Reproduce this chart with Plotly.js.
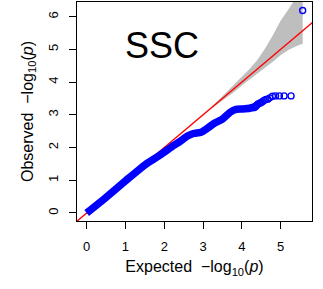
<!DOCTYPE html>
<html>
<head>
<meta charset="utf-8">
<script src="https://cdn.plot.ly/plotly-3.0.1.min.js"></script>
<style>html,body{margin:0;padding:0;background:#fff;}#chart{width:323px;height:289px;}</style>
</head>
<body>
<div id="chart"></div>
<script>
// Dense part of the QQ ribbon (expected, observed)
var denseExpected = [0, 0.5, 1.0, 1.5, 1.8, 2.0, 2.2, 2.4, 2.6, 2.75, 2.95, 3.1, 3.3, 3.5, 3.7, 3.85, 4.0, 4.2, 4.35];
var denseObserved = [0, 0.48, 0.98, 1.47, 1.7, 1.86, 2.03, 2.18, 2.35, 2.43, 2.47, 2.58, 2.75, 2.87, 3.08, 3.17, 3.18, 3.2, 3.25];
// Sparse tail points
var tailExpected = [5.57, 5.27, 5.09, 4.97, 4.87, 4.79, 4.72, 4.67, 4.62, 4.57, 4.53, 4.49, 4.46, 4.42, 4.39, 4.37, 4.34, 4.31];
var tailObserved = [6.19, 3.58, 3.58, 3.58, 3.58, 3.57, 3.52, 3.48, 3.47, 3.44, 3.40, 3.37, 3.36, 3.33, 3.30, 3.27, 3.24, 3.22];
// Confidence band
var bandX = [3.2, 3.5, 3.8, 4.0, 4.2, 4.4, 4.6, 4.8, 5.0, 5.2, 5.4, 5.57];
var bandUpper = [3.22, 3.58, 3.92, 4.15, 4.4, 4.68, 5.03, 5.43, 5.88, 6.22, 6.56, 6.9];
var bandLower = [3.18, 3.43, 3.7, 3.9, 4.1, 4.27, 4.44, 4.62, 4.82, 4.98, 5.1, 5.17];
// Reference line y = x
var refLine = [-1, 7];
var xTicks = [0, 1, 2, 3, 4, 5];
var yTicks = [0, 1, 2, 3, 4, 5, 6];
var label = "SSC";

var polyX = bandX.concat(bandX.slice().reverse());
var polyY = bandUpper.concat(bandLower.slice().reverse());

var traces = [
  {x: polyX, y: polyY, type: 'scatter', mode: 'lines', fill: 'toself',
   fillcolor: '#BEBEBE', line: {width: 0, color: '#BEBEBE'}, hoverinfo: 'skip'},
  {x: refLine, y: refLine, type: 'scatter', mode: 'lines',
   line: {color: '#FF0000', width: 1.4}},
  {x: denseExpected, y: denseObserved, type: 'scatter', mode: 'lines',
   line: {color: '#0000FF', width: 7.5, shape: 'spline', smoothing: 0.6}},
  {x: tailExpected, y: tailObserved, type: 'scatter', mode: 'markers',
   marker: {symbol: 'circle-open', size: 6, color: '#0000FF', line: {width: 1.4, color: '#0000FF'}}}
];

var font = {family: 'Liberation Sans, Arial, Helvetica, sans-serif', color: '#000'};

var layout = {
  width: 323, height: 289,
  margin: {l: 77, r: 11, t: 2, b: 68},
  paper_bgcolor: '#fff', plot_bgcolor: '#fff',
  showlegend: false,
  font: font,
  xaxis: {
    range: [-0.25, 5.81], tickvals: xTicks, ticktext: xTicks.map(String),
    ticks: 'outside', ticklen: 7, tickwidth: 1, tickcolor: '#000',
    showline: true, linecolor: '#000', linewidth: 1, mirror: true,
    showgrid: false, zeroline: false,
    tickfont: {family: font.family, size: 13, color: '#000'},
    ticklabelstandoff: 6,
    title: {text: 'Expected\u00A0 \u2212log<sub>10</sub>(<i>p</i>)', font: {family: font.family, size: 16, color: '#000'}, standoff: 8}
  },
  yaxis: {
    range: [-0.245, 6.45], tickvals: yTicks, ticktext: yTicks.map(String),
    ticks: 'outside', ticklen: 7, tickwidth: 1, tickcolor: '#000',
    showline: true, linecolor: '#000', linewidth: 1, mirror: true,
    showgrid: false, zeroline: false, tickangle: -90,
    tickfont: {family: font.family, size: 13, color: '#000'},
    ticklabelstandoff: 6,
    title: {text: 'Observed\u00A0 \u2212log<sub>10</sub>(<i>p</i>)', font: {family: font.family, size: 16, color: '#000'}, standoff: 8}
  },
  annotations: [{
    text: label, xref: 'x', yref: 'y', x: 1.93, y: 5.12, showarrow: false,
    font: {family: font.family, size: 36, color: '#000'}, xanchor: 'center', yanchor: 'middle'
  }]
};

Plotly.newPlot('chart', traces, layout, {staticPlot: true, displayModeBar: false});
</script>
</body>
</html>
